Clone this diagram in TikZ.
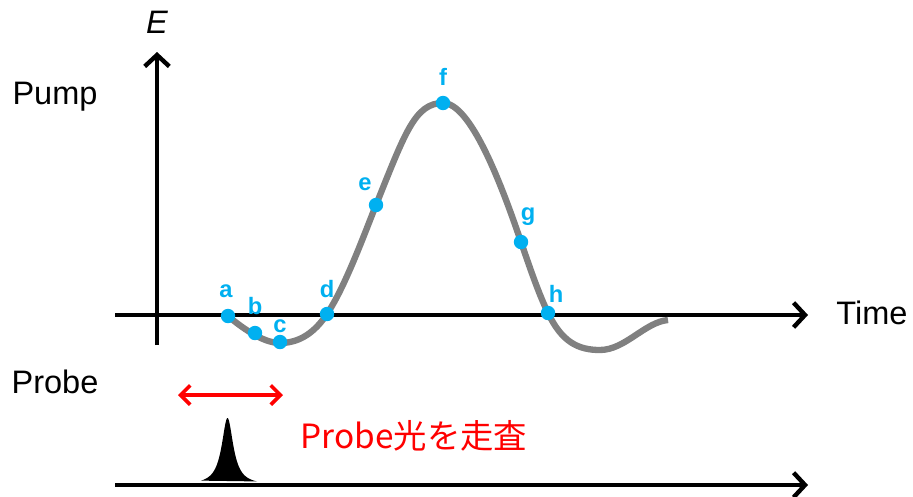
\documentclass[tikz,border=0pt]{standalone}
\usepackage{fontspec}
\setmainfont{Liberation Sans}
\newfontfamily\cjkfont{Noto Sans CJK JP}
\usetikzlibrary{arrows.meta}
\definecolor{dotblue}{RGB}{0,176,240}
\definecolor{curvegray}{RGB}{128,128,128}

\tikzset{
  axis/.style={line width=2.5pt, -{Straight Barb[length=6.5pt, width=14pt, line width=2.5pt]}},
  scan/.style={red, line width=2.1pt, {Straight Barb[length=5.5pt, width=11pt, line width=2.1pt]}-{Straight Barb[length=5.5pt, width=11pt, line width=2.1pt]}},
  curve/.style={curvegray, line width=3.6pt},
  dot/.style={circle, fill=dotblue, inner sep=0pt, minimum size=8.2pt},
  ptlabel/.style={dotblue, font=\bfseries\fontsize{13.5}{16}\selectfont},
  lbl/.style={font=\fontsize{18.5}{22}\selectfont}
}

\begin{document}
\begin{tikzpicture}[x=0.02cm, y=-0.02cm]
\useasboundingbox (0,0) rectangle (913,497);
% axes
\coordinate (eorig) at (157,345);
\coordinate (etip) at (157,52);
\coordinate (tstart) at (115,315);
\coordinate (ttip) at (808,315);
\coordinate (pstart) at (115,485);
\coordinate (ptip) at (808,485);
% probe pulse
\fill[black] plot[domain=201:257, samples=90] (\x, {485-67/(1+((\x-227.5)/7)^2)}) -- cycle;
\draw[axis] (eorig) -- (etip);
\draw[axis] (tstart) -- (ttip);
\draw[axis] (pstart) -- (ptip);
\node[lbl] (elabel) at (157,22) {\itshape E};
\node[lbl] (pump) at (55,97) {Pump};
\node[lbl] (probe) at (55,382) {Probe};
\node[lbl] (time) at (872,313) {Time};
% pump field
\draw[curve] (228,316) .. controls (240,326) and (262,343) .. (280,343)
  .. controls (300,343) and (315,332) .. (327,314)
  .. controls (345,287) and (364,235) .. (376,205)
  .. controls (405,133) and (415,103) .. (443,103)
  .. controls (470,103) and (500,180) .. (521,242)
  .. controls (530,268) and (538,292) .. (548,313)
  .. controls (562,342) and (578,350) .. (600,350)
  .. controls (625,350) and (645,322) .. (668,320);
\node[dot] (a) at (228,316) {};
\node[dot] (b) at (255,333) {};
\node[dot] (c) at (280,342) {};
\node[dot] (d) at (327,314) {};
\node[dot] (e) at (376,205) {};
\node[dot] (f) at (443,103) {};
\node[dot] (g) at (521,242) {};
\node[dot] (h) at (548,313) {};
\node[ptlabel] (la) at (226,291) {a};
\node[ptlabel] (lb) at (255,306) {b};
\node[ptlabel] (lc) at (280,326) {c};
\node[ptlabel] (ld) at (327,289) {d};
\node[ptlabel] (le) at (365,184) {e};
\node[ptlabel] (lf) at (443,77) {f};
\node[ptlabel] (lg) at (528,217) {g};
\node[ptlabel] (lh) at (556,294) {h};
% scan range
\coordinate (scanl) at (178,395);
\coordinate (scanr) at (283,395);
\draw[scan] (scanl) -- (scanr);
\node[red, font=\cjkfont\fontsize{19}{23}\selectfont] (scantext) at (414,436) {Probe光を走査};
\end{tikzpicture}
\end{document}
